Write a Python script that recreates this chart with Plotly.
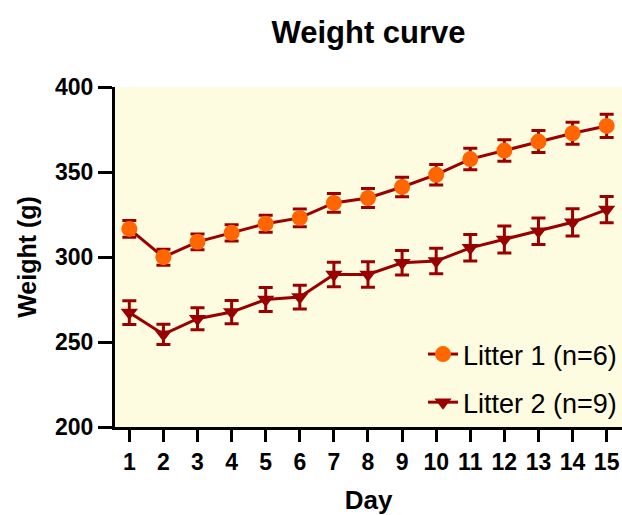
import plotly.graph_objects as go

days = list(range(1, 16))
litter1_mean = [316.5, 299.9, 308.9, 314.2, 319.6, 323.0, 331.8, 334.7, 341.2, 348.4, 357.6, 362.6, 367.9, 372.8, 377.1]
litter1_sem = [4.9, 4.7, 4.6, 4.8, 5.0, 5.2, 5.5, 5.6, 5.7, 6.0, 6.3, 6.3, 6.5, 6.5, 6.8]
litter2_mean = [267.3, 254.5, 263.7, 267.6, 275.0, 276.4, 289.7, 289.7, 296.6, 297.6, 305.4, 310.3, 315.1, 320.4, 327.9]
litter2_sem = [7.0, 6.0, 6.5, 6.8, 7.0, 7.0, 7.2, 7.5, 7.2, 7.5, 7.8, 8.0, 7.8, 8.0, 7.7]
series_names = ["Litter 1 (n=6)", "Litter 2 (n=9)"]

dark_red = "#990000"
orange = "#FF6600"
font_family = "Liberation Sans, Arial, sans-serif"

fig = go.Figure()
fig.add_trace(go.Scatter(
    x=days, y=litter1_mean, name=series_names[0], mode="lines+markers", legendgroup="a",
    line=dict(color=dark_red, width=3),
    marker=dict(symbol="circle", size=16, color=orange, line=dict(width=0)),
    error_y=dict(type="data", array=litter1_sem, visible=True, color=dark_red, thickness=3, width=7),
))
fig.add_trace(go.Scatter(
    x=days, y=litter2_mean, name=series_names[1], mode="lines+markers", legendgroup="b",
    line=dict(color=dark_red, width=3),
    marker=dict(symbol="triangle-down", size=15, color=dark_red, line=dict(width=0)),
    error_y=dict(type="data", array=litter2_sem, visible=True, color=dark_red, thickness=3, width=7),
))

fig.update_layout(
    width=622, height=515,
    margin=dict(l=115, r=0, t=87, b=88),
    paper_bgcolor="white",
    plot_bgcolor="#FEFCE0",
    font=dict(family=font_family, color="black"),
    title=dict(text="Weight curve", x=0.5, xref="paper", y=1 - 32 / 515, yref="container",
               xanchor="center", yanchor="middle",
               font=dict(size=31, weight="bold", family=font_family, color="black")),
    showlegend=True,
    legend=dict(x=1, y=0.0, xanchor="right", yanchor="bottom", bgcolor="rgba(0,0,0,0)",
                font=dict(size=27, family=font_family, color="black"), tracegroupgap=10,
                traceorder="grouped", itemwidth=30),
)
fig.update_xaxes(
    range=[0.58, 15.45], tickmode="array", tickvals=days, ticktext=[str(d) for d in days],
    showgrid=False, zeroline=False, showline=True, linecolor="black", linewidth=3,
    ticks="outside", ticklen=12, tickwidth=3, tickcolor="black",
    tickfont=dict(size=23, weight="bold", family=font_family, color="black"),
    title=dict(text="Day", font=dict(size=26, weight="bold", family=font_family, color="black"), standoff=20),
)
fig.update_yaxes(
    range=[200, 400], tickvals=[200, 250, 300, 350, 400],
    showgrid=False, zeroline=False, showline=True, linecolor="black", linewidth=3,
    ticks="outside", ticklen=14, tickwidth=3, tickcolor="black",
    tickfont=dict(size=23, weight="bold", family=font_family, color="black"),
    title=dict(text="Weight (g)", font=dict(size=25, weight="bold", family=font_family, color="black"), standoff=12),
)

fig.write_html("out.html", config={"displayModeBar": False},
               post_script="document.body.style.margin='0';document.body.style.overflow='hidden';")
